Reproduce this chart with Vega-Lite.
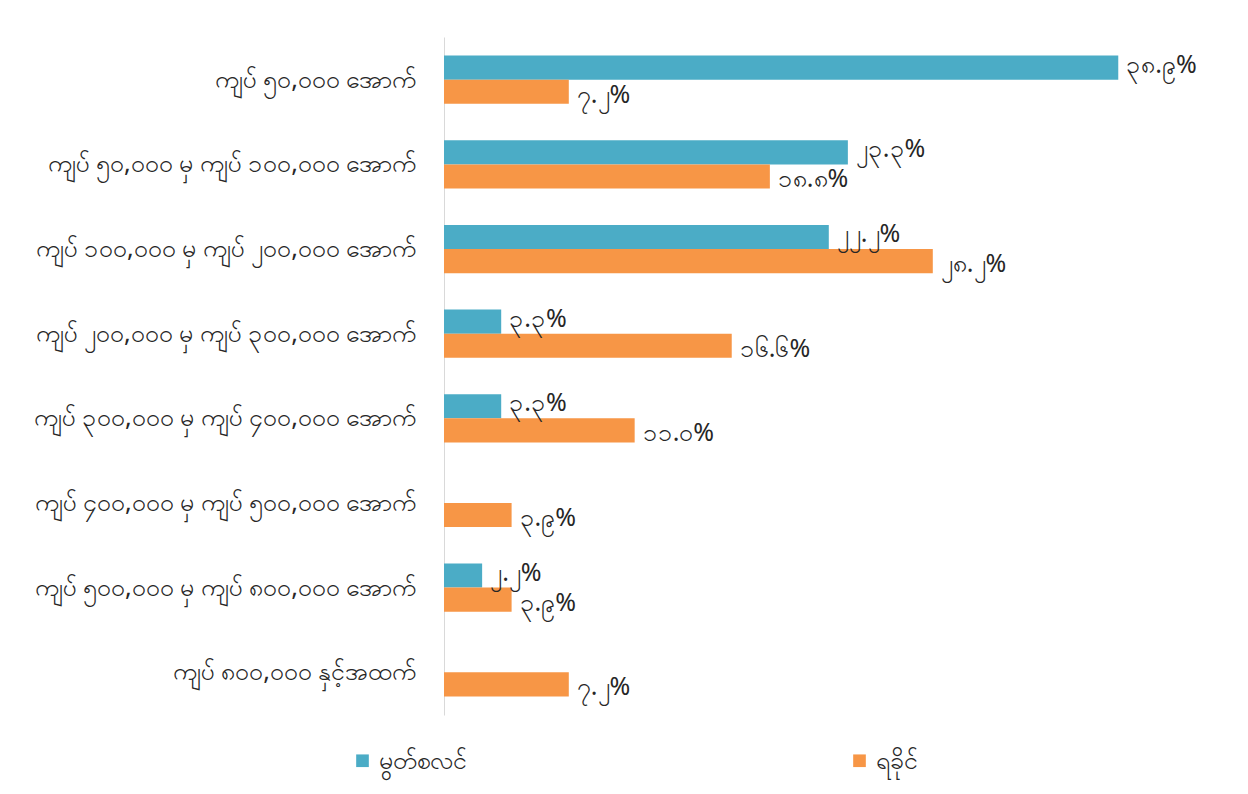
{
  "$schema": "https://vega.github.io/schema/vega-lite/v6.json",
  "autosize": "none",
  "width": 780,
  "height": 678,
  "padding": {"left": 444, "top": 37, "right": 24, "bottom": 79},
  "background": "white",
  "data": {
    "values": [
      {"category": "ကျပ် ၅၀,၀၀၀ အောက်", "series": "မွတ်စလင်", "value": 38.9, "label": "၃၈.၉%"},
      {"category": "ကျပ် ၅၀,၀၀၀ အောက်", "series": "ရခိုင်", "value": 7.2, "label": "၇.၂%"},
      {"category": "ကျပ် ၅၀,၀၀၀ မှ ကျပ် ၁၀၀,၀၀၀ အောက်", "series": "မွတ်စလင်", "value": 23.3, "label": "၂၃.၃%"},
      {"category": "ကျပ် ၅၀,၀၀၀ မှ ကျပ် ၁၀၀,၀၀၀ အောက်", "series": "ရခိုင်", "value": 18.8, "label": "၁၈.၈%"},
      {"category": "ကျပ် ၁၀၀,၀၀၀ မှ ကျပ် ၂၀၀,၀၀၀ အောက်", "series": "မွတ်စလင်", "value": 22.2, "label": "၂၂.၂%"},
      {"category": "ကျပ် ၁၀၀,၀၀၀ မှ ကျပ် ၂၀၀,၀၀၀ အောက်", "series": "ရခိုင်", "value": 28.2, "label": "၂၈.၂%"},
      {"category": "ကျပ် ၂၀၀,၀၀၀ မှ ကျပ် ၃၀၀,၀၀၀ အောက်", "series": "မွတ်စလင်", "value": 3.3, "label": "၃.၃%"},
      {"category": "ကျပ် ၂၀၀,၀၀၀ မှ ကျပ် ၃၀၀,၀၀၀ အောက်", "series": "ရခိုင်", "value": 16.6, "label": "၁၆.၆%"},
      {"category": "ကျပ် ၃၀၀,၀၀၀ မှ ကျပ် ၄၀၀,၀၀၀ အောက်", "series": "မွတ်စလင်", "value": 3.3, "label": "၃.၃%"},
      {"category": "ကျပ် ၃၀၀,၀၀၀ မှ ကျပ် ၄၀၀,၀၀၀ အောက်", "series": "ရခိုင်", "value": 11.0, "label": "၁၁.၀%"},
      {"category": "ကျပ် ၄၀၀,၀၀၀ မှ ကျပ် ၅၀၀,၀၀၀ အောက်", "series": "ရခိုင်", "value": 3.9, "label": "၃.၉%"},
      {"category": "ကျပ် ၅၀၀,၀၀၀ မှ ကျပ် ၈၀၀,၀၀၀ အောက်", "series": "မွတ်စလင်", "value": 2.2, "label": "၂.၂%"},
      {"category": "ကျပ် ၅၀၀,၀၀၀ မှ ကျပ် ၈၀၀,၀၀၀ အောက်", "series": "ရခိုင်", "value": 3.9, "label": "၃.၉%"},
      {"category": "ကျပ် ၈၀၀,၀၀၀ နှင့်အထက်", "series": "ရခိုင်", "value": 7.2, "label": "၇.၂%"}
    ]
  },
  "encoding": {
    "y": {
      "field": "category",
      "type": "nominal",
      "sort": null,
      "scale": {"paddingInner": 0.43, "paddingOuter": 0.22},
      "axis": {
        "title": null,
        "ticks": false,
        "domain": true,
        "domainColor": "#d9d9d9",
        "labelFontSize": 25,
        "labelColor": "#262626",
        "labelPadding": 28,
        "labelLimit": 440
      }
    },
    "yOffset": {
      "field": "series",
      "type": "nominal",
      "scale": {"domain": ["မွတ်စလင်", "ရခိုင်"]}
    },
    "x": {
      "field": "value",
      "type": "quantitative",
      "scale": {"domain": [0, 45]},
      "axis": null
    }
  },
  "layer": [
    {
      "mark": {"type": "bar"},
      "encoding": {
        "color": {
          "field": "series",
          "type": "nominal",
          "scale": {"domain": ["မွတ်စလင်", "ရခိုင်"], "range": ["#4BACC6", "#F79646"]},
          "legend": {
            "title": null,
            "orient": "none",
            "direction": "horizontal",
            "legendX": -94,
            "legendY": 711,
            "symbolType": "square",
            "symbolSize": 160,
            "symbolStrokeWidth": 0,
            "labelFontSize": 25,
            "labelColor": "#262626",
            "columnPadding": 380,
            "labelLimit": 200
          }
        }
      }
    },
    {
      "transform": [{"filter": "datum.series === 'မွတ်စလင်'"}],
      "mark": {"type": "text", "align": "left", "baseline": "middle", "dx": 8, "dy": -3, "fontSize": 25, "color": "#262626"},
      "encoding": {
        "text": {"field": "label", "type": "nominal"}
      }
    },
    {
      "transform": [{"filter": "datum.series === 'ရခိုင်'"}],
      "mark": {"type": "text", "align": "left", "baseline": "middle", "dx": 8, "dy": 3, "fontSize": 25, "color": "#262626"},
      "encoding": {
        "text": {"field": "label", "type": "nominal"}
      }
    }
  ],
  "config": {
    "view": {"stroke": null},
    "font": "Noto Sans"
  }
}
